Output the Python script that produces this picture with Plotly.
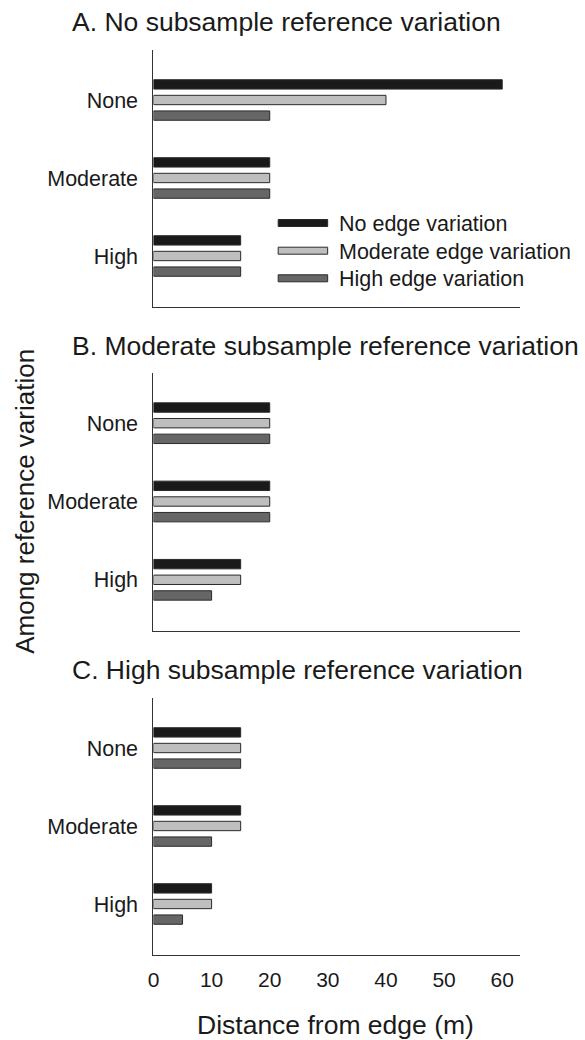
import plotly.graph_objects as go

categories = ["None", "Moderate", "High"]
series_names = ["No edge variation", "Moderate edge variation", "High edge variation"]
panel_titles = [
    "A. No subsample reference variation",
    "B. Moderate subsample reference variation",
    "C. High subsample reference variation",
]
# values per panel, per series, over categories (None, Moderate, High)
panel_a = {"No edge variation": [60, 20, 15],
           "Moderate edge variation": [40, 20, 15],
           "High edge variation": [20, 20, 15]}
panel_b = {"No edge variation": [20, 20, 15],
           "Moderate edge variation": [20, 20, 15],
           "High edge variation": [20, 20, 10]}
panel_c = {"No edge variation": [15, 15, 10],
           "Moderate edge variation": [15, 15, 10],
           "High edge variation": [15, 10, 5]}
x_ticks = [0, 10, 20, 30, 40, 50, 60]

colors = {"No edge variation": "#1a1a1a",
          "Moderate edge variation": "#bebebe",
          "High edge variation": "#666666"}

W, H = 585, 1040
FONT = "Liberation Sans, Arial, sans-serif"
TXT = "#1a1a1a"

def px(x):
    return x / W

def py(y):
    return 1 - y / H

# plot areas in pixels (top, bottom)
areas = [(50, 307), (373, 631), (698, 955)]
x_left, x_right = 149, 519

fig = go.Figure()
panels = [panel_a, panel_b, panel_c]
cat_pos = list(range(len(categories)))
for i, panel in enumerate(panels):
    suffix = "" if i == 0 else str(i + 1)
    for name in series_names:
        fig.add_trace(go.Bar(
            x=panel[name], y=cat_pos, orientation="h", name=name,
            marker=dict(color=colors[name], line=dict(color="#2a2a2a", width=1)),
            xaxis="x" + suffix, yaxis="y" + suffix, showlegend=False,
        ))

layout = dict(
    width=W, height=H, margin=dict(l=0, r=0, t=0, b=0),
    paper_bgcolor="white", plot_bgcolor="white",
    barmode="group", bargap=0.4, bargroupgap=0.4,
    font=dict(family=FONT, color=TXT, size=21),
    showlegend=False,
)
for i, (top, bot) in enumerate(areas):
    suffix = "" if i == 0 else str(i + 1)
    layout["xaxis" + suffix] = dict(
        domain=[px(x_left), px(x_right)], range=[0, 63],
        anchor="y" + suffix, showline=True, linecolor="#333333", linewidth=1.2,
        showgrid=False, zeroline=False, ticks="",
        tickvals=x_ticks, ticktext=[str(v) for v in x_ticks],
        showticklabels=(i == 2), tickfont=dict(size=21, family=FONT, color=TXT),
        ticklabelstandoff=6,
    )
    layout["yaxis" + suffix] = dict(
        domain=[py(bot), py(top)], range=[2.654, -0.641],
        anchor="x" + suffix, showline=True, linecolor="#333333", linewidth=1.2,
        showgrid=False, zeroline=False, ticks="",
        tickvals=cat_pos, ticktext=categories,
        tickfont=dict(size=21.5, family=FONT, color=TXT),
        ticklabelstandoff=10,
    )

annotations = []
title_y = [21, 345, 669]
for t, ty in zip(panel_titles, title_y):
    annotations.append(dict(text=t, x=px(65), y=py(ty + 1), xref="paper", yref="paper",
                            xanchor="left", yanchor="middle", showarrow=False,
                            font=dict(size=26.5, family=FONT, color=TXT)))
annotations.append(dict(text="Among reference variation", x=px(19), y=py(501),
                        xref="paper", yref="paper", xanchor="center", yanchor="middle",
                        textangle=-90, showarrow=False,
                        font=dict(size=26, family=FONT, color=TXT)))
annotations.append(dict(text="Distance from edge (m)", x=px(333), y=py(1025),
                        xref="paper", yref="paper", xanchor="center", yanchor="middle",
                        showarrow=False, font=dict(size=26.5, family=FONT, color=TXT)))

# manual legend in panel A
shapes = []
leg_y = [223, 250.7, 278.3]
for name, ly in zip(series_names, leg_y):
    shapes.append(dict(type="rect", xref="paper", yref="paper",
                       x0=px(275), x1=px(325), y0=py(ly + 3.5), y1=py(ly - 3.5),
                       fillcolor=colors[name], line=dict(color="#2a2a2a", width=1)))
    annotations.append(dict(text=name, x=px(334), y=py(ly + 1), xref="paper", yref="paper",
                            xanchor="left", yanchor="middle", showarrow=False,
                            font=dict(size=21.5, family=FONT, color=TXT)))

layout["annotations"] = annotations
layout["shapes"] = shapes
fig.update_layout(**layout)
fig.write_html("out.html", config={"displayModeBar": False},
               post_script="document.body.style.margin='0';document.body.style.overflow='hidden';")
